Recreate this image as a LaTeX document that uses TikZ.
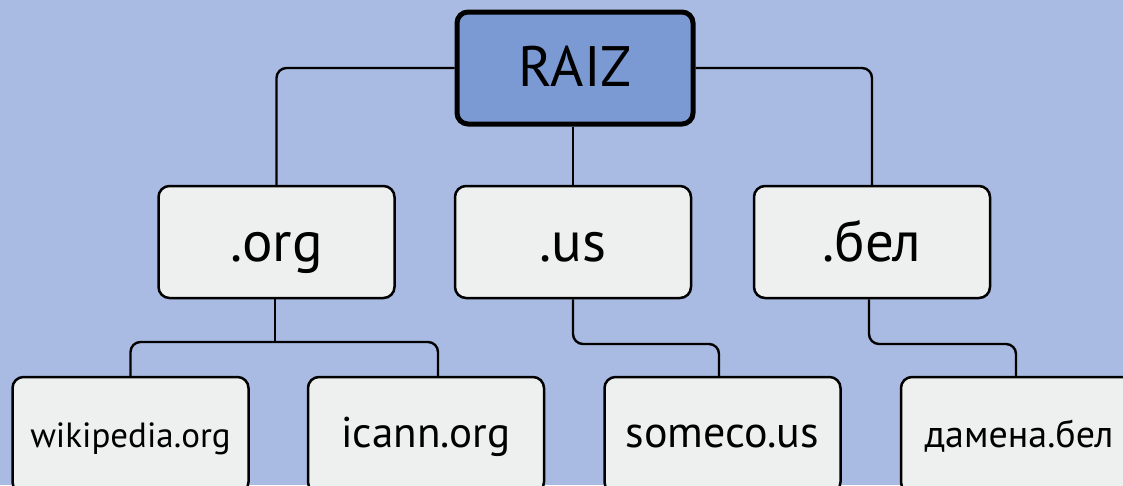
\documentclass[tikz,border=0pt]{standalone}
\usepackage{fontspec}
\setmainfont{PT Sans}
\definecolor{bgblue}{RGB}{169,187,227}
\definecolor{rootblue}{RGB}{123,154,212}
\definecolor{boxgray}{RGB}{238,240,240}
\begin{document}
\begin{tikzpicture}[x=1pt,y=-1pt,
  box/.style={draw=black, line width=2.5pt, rounded corners=11pt, fill=boxgray,
    inner sep=0pt, minimum width=236pt},
  topbox/.style={box, minimum height=112pt, text height=38pt, text depth=0pt,
    font=\fontsize{57}{60}\selectfont},
  leafbox/.style={box, minimum height=116pt, text height=24pt, text depth=0pt},
  rootbox/.style={box, fill=rootblue, line width=5pt, minimum height=112pt,
    text height=36pt, text depth=0pt, font=\fontsize{57}{60}\selectfont},
  link/.style={draw=black, line width=2.4pt, rounded corners=10pt}]
\useasboundingbox (0,0) rectangle (1123,485);
\clip (0,0) rectangle (1123,485);
\fill[bgblue] (0,0) rectangle (1123,485);

\node[rootbox] (raiz) at (575,68) {RAIZ};
\node[topbox] (org) at (276.5,242) {.org};
\node[topbox] (us) at (573,242) {.us};
\node[topbox] (bel) at (872,242) {.бел};

\node[leafbox, font=\fontsize{35}{40}\selectfont] (wiki) at (130.5,435) {wikipedia.org};
\node[leafbox, font=\fontsize{43}{48}\selectfont] (icann) at (426,435) {icann.org};
\node[leafbox, font=\fontsize{44}{48}\selectfont] (someco) at (722.5,435) {someco.us};
\node[leafbox, font=\fontsize{38}{42}\selectfont] (damena) at (1019,435) {дамена.бел};

\coordinate (orgj) at (275,342);
\coordinate (icanntop) at (438,377);
\coordinate (somecotop) at (719,377);
\coordinate (damenatop) at (1016,377);
\coordinate (usj) at (573,344);
\coordinate (belj) at (869,344);

\draw[link] (raiz.west) -| (org.north);
\draw[link] (raiz.east) -| (bel.north);
\draw[link] (raiz.south -| us.north) -- (us.north);
\draw[link] (org.south -| orgj) -- (orgj);
\draw[link] (wiki.north) |- (orgj) -| (icanntop);
\draw[link] (us.south) -- (usj) -| (somecotop);
\draw[link] (bel.south -| belj) -- (belj) -| (damenatop);
\end{tikzpicture}
\end{document}
